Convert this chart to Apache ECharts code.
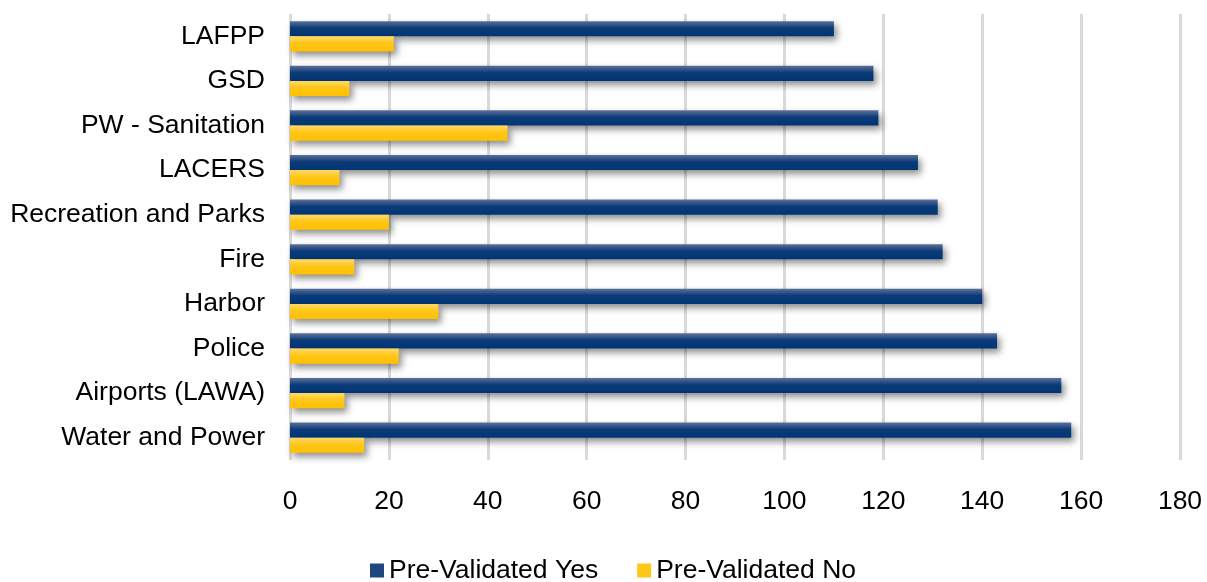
<!DOCTYPE html>
<html>
<head>
<meta charset="utf-8">
<script src="https://cdn.jsdelivr.net/npm/echarts@6/dist/echarts.min.js"></script>
<style>
  html, body { margin: 0; padding: 0; background: #fff; }
  #chart { width: 1207px; height: 582px; }
</style>
</head>
<body>
<div id="chart"></div>
<script>
// categories top to bottom
var categories = ['LAFPP', 'GSD', 'PW - Sanitation', 'LACERS', 'Recreation and Parks',
    'Fire', 'Harbor', 'Police', 'Airports (LAWA)', 'Water and Power'];
var yesValues = [110, 118, 119, 127, 131, 132, 140, 143, 156, 158];
var noValues = [21, 12, 44, 10, 20, 13, 30, 22, 11, 15];
var seriesNames = ['Pre-Validated Yes', 'Pre-Validated No'];

var chart = echarts.init(document.getElementById('chart'));

var blueFill = new echarts.graphic.LinearGradient(0, 0, 0, 1, [
    { offset: 0, color: '#5d7199' },
    { offset: 0.45, color: '#0b3b78' },
    { offset: 1, color: '#003575' }
]);
var yellowFill = new echarts.graphic.LinearGradient(0, 0, 0, 1, [
    { offset: 0, color: '#ffd966' },
    { offset: 0.45, color: '#ffc61a' },
    { offset: 1, color: '#ffc000' }
]);

var option = {
    animation: false,
    textStyle: { fontFamily: 'Liberation Sans, Arial, sans-serif' },
    grid: { left: 290, right: 27, top: 14, bottom: 122 },
    legend: {
        bottom: -7,
        left: 365,
        itemWidth: 14,
        itemHeight: 14,
        itemGap: 39,
        itemTextGap: 6,
        icon: 'rect',
        textStyle: { fontSize: 26.5, color: '#000' },
        data: [
            { name: seriesNames[0], itemStyle: { color: '#1f477f' } },
            { name: seriesNames[1], itemStyle: { color: '#ffc61a' } }
        ]
    },
    xAxis: {
        type: 'value',
        min: 0,
        max: 180,
        interval: 20,
        axisLine: { show: false },
        axisTick: { show: false },
        axisLabel: { fontSize: 26.5, color: '#000', margin: 28 },
        splitLine: { show: true, lineStyle: { color: '#d9d9d9', width: 3 } }
    },
    yAxis: {
        type: 'category',
        inverse: true,
        data: categories,
        axisLine: { show: false },
        axisTick: { show: false },
        axisLabel: { fontSize: 26.5, color: '#000', margin: 25 }
    },
    series: [
        {
            name: seriesNames[0],
            type: 'bar',
            data: yesValues,
            barCategoryGap: '32%',
            barGap: '0%',
            itemStyle: {
                color: blueFill,
                shadowColor: 'rgba(0,0,0,0.45)',
                shadowBlur: 7,
                shadowOffsetX: 3,
                shadowOffsetY: 4
            }
        },
        {
            name: seriesNames[1],
            type: 'bar',
            data: noValues,
            barCategoryGap: '32%',
            barGap: '0%',
            itemStyle: {
                color: yellowFill,
                shadowColor: 'rgba(0,0,0,0.45)',
                shadowBlur: 7,
                shadowOffsetX: 3,
                shadowOffsetY: 4
            }
        }
    ]
};

chart.setOption(option);
</script>
</body>
</html>
